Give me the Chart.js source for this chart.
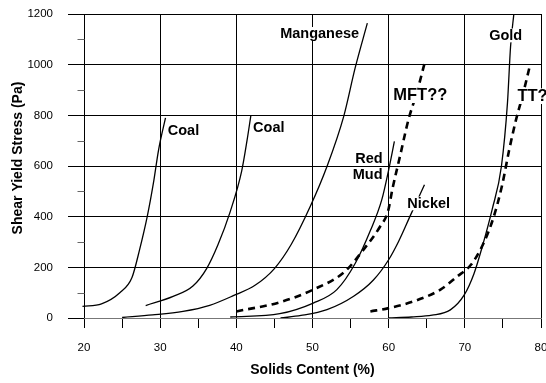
<!DOCTYPE html>
<html>
<head>
<meta charset="utf-8">
<style>
  html, body { margin: 0; padding: 0; background: #fff; }
  #wrap { width: 546px; height: 383px; }
</style>
<script src="https://cdn.jsdelivr.net/npm/chart.js@4.4.0/dist/chart.umd.min.js"></script>
</head>
<body>
<div id="wrap"><canvas id="c" width="546" height="383"></canvas></div>
<script>
// Shear yield stress (Pa) against solids content (%) for several slurries
const coalA     = [[19.8,46],[22.3,56],[24.7,100],[26.3,160],[27.3,270],[28.3,400],[29.1,530],[29.8,665],[30.7,790]];
const coalB     = [[28.1,49],[31.7,85],[34.3,126],[36.1,195],[37.6,290],[39.2,420],[40.7,580],[41.4,700],[41.9,798]];
const manganese = [[25,2],[29,12],[33,26],[36.5,50],[39.6,88],[42.5,130],[45,195],[47.2,290],[49.7,440],[51.9,598],[54.1,796],[55.6,987],[57.2,1164]];
const redMud    = [[39.2,4],[45.7,17],[50.1,59],[53.2,112],[55.6,215],[57.6,345],[59.1,467],[60,585],[60.75,697]];
const nickel    = [[45.8,0],[48.5,10],[51.9,33],[55.4,86],[58,150],[60,230],[61.3,302],[62.9,408],[64.7,526]];
const mft       = [[40,26],[45.7,62],[50.1,112],[54.2,182],[56.7,270],[58.9,362],[59.9,420],[60.5,510],[61.5,640],[62.6,783],[63.7,890],[64.7,1004]];
const gold      = [[60,0],[63,4],[65.7,11],[68.1,32],[69.9,90],[71.2,175],[72.3,283],[73.6,430],[74.8,598],[75.6,850],[76,1070],[76.45,1204]];
const tt        = [[57.6,26],[60,39],[63.3,66],[66.8,112],[69,164],[70.8,210],[72.3,285],[73.8,400],[74.9,525],[75.8,660],[76.7,780],[77.6,880],[78.6,1003]];

// Axis ticks
const xTicks = [20,25,30,35,40,45,50,55,60,65,70,75,80];
const yTicks = [0,200,400,600,800,1000,1200];
const yMinorTicks = [100,300,500,700,900,1100];

// Curve labels: text, anchor x, anchor y, alignment
const labelText  = ['Coal','Coal','Manganese','MFT??','TT?','Red','Mud','Nickel','Gold'];
const labelX     = [31.0, 42.2, 45.75, 60.6, 76.9, 59.2, 59.2, 62.45, 73.2];
const labelY     = [739, 749, 1120, 878, 874, 629, 563, 451, 1114];
const labelAlign = ['left','left','left','left','left','right','right','left','left'];

const toXY = arr => arr.map(p => ({x: p[0], y: p[1]}));

function series(data, dashed) {
  return {
    data: toXY(data),
    borderColor: '#000',
    borderWidth: dashed ? 2.6 : 1.3,
    borderDash: dashed ? [7, 5] : [],
    pointRadius: 0,
    fill: false,
    cubicInterpolationMode: 'monotone',
    clip: {left: 20, top: 0, right: 0, bottom: 0}
  };
}

const annotate = {
  id: 'annotate',
  afterDatasetsDraw(chart) {
    const {ctx, scales: {x, y}} = chart;
    ctx.save();
    // minor ticks on the stress axis
    ctx.strokeStyle = '#666';
    ctx.lineWidth = 1;
    const x0 = Math.round(x.getPixelForValue(20)) + 0.5;
    yMinorTicks.forEach(v => {
      const py = Math.round(y.getPixelForValue(v)) + 0.5;
      ctx.beginPath();
      ctx.moveTo(x0 - 7, py);
      ctx.lineTo(x0, py);
      ctx.stroke();
    });
    // curve labels on white boxes
    ctx.textBaseline = 'middle';
    labelText.forEach((t, i) => {
      const big = (t === 'MFT??' || t === 'TT?');
      const size = big ? 16.5 : 14.5;
      ctx.font = 'bold ' + size + 'px "Liberation Sans", Arial, sans-serif';
      ctx.textAlign = labelAlign[i];
      const px = x.getPixelForValue(labelX[i]);
      const py = y.getPixelForValue(labelY[i]);
      const w = ctx.measureText(t).width;
      const left = labelAlign[i] === 'right' ? px - w : px;
      ctx.fillStyle = '#fff';
      ctx.fillRect(left - 1, py - size * 0.5, w + 2, size * 0.95);
      ctx.fillStyle = '#000';
      ctx.fillText(t, px, py);
    });
    // vertical axis title
    ctx.font = 'bold 14px "Liberation Sans", Arial, sans-serif';
    ctx.textAlign = 'center';
    ctx.translate(18, 158);
    ctx.rotate(-Math.PI / 2);
    ctx.fillText('Shear Yield Stress (Pa)', 0, 0);
    ctx.restore();
  }
};

new Chart(document.getElementById('c'), {
  type: 'line',
  data: {
    datasets: [
      series(coalA, false),
      series(coalB, false),
      series(manganese, false),
      series(redMud, false),
      series(nickel, false),
      series(gold, false),
      series(mft, true),
      series(tt, true)
    ]
  },
  options: {
    responsive: false,
    animation: false,
    devicePixelRatio: 1,
    layout: {padding: {left: 0, right: 5, top: 14, bottom: 0}},
    plugins: {legend: {display: false}, tooltip: {enabled: false}},
    scales: {
      x: {
        type: 'linear',
        min: 20,
        max: 80,
        afterBuildTicks: s => { s.ticks = xTicks.map(v => ({value: v})); },
        afterFit: s => { s.height = 65; s.paddingLeft = 0; s.paddingRight = 0; },
        grid: {
          color: c => (c.tick && c.tick.value % 10 === 0) ? '#000' : 'rgba(0,0,0,0)',
          tickColor: '#000',
          tickLength: 10,
          lineWidth: 1
        },
        border: {display: true, color: '#777'},
        ticks: {
          autoSkip: false,
          maxRotation: 0,
          padding: 13,
          color: '#000',
          font: {family: '"Liberation Sans Narrow", "Liberation Sans", Arial', size: 11.5},
          callback: v => (v % 10 === 0 ? String(v) : '')
        },
        title: {
          display: true,
          text: 'Solids Content (%)',
          color: '#000',
          font: {family: '"Liberation Sans", Arial', size: 14, weight: 'bold'},
          padding: {top: 0, bottom: 4}
        }
      },
      y: {
        min: 0,
        max: 1200,
        afterBuildTicks: s => { s.ticks = yTicks.map(v => ({value: v})); },
        afterFit: s => { s.width = 84; s.paddingTop = 0; s.paddingBottom = 0; },
        grid: {
          color: '#000',
          tickColor: '#000',
          tickLength: 16,
          lineWidth: 1
        },
        border: {display: false},
        ticks: {
          padding: 15,
          color: '#000',
          font: {family: '"Liberation Sans Narrow", "Liberation Sans", Arial', size: 11.5},
          callback: v => String(v)
        }
      }
    }
  },
  plugins: [annotate]
});
</script>
</body>
</html>
